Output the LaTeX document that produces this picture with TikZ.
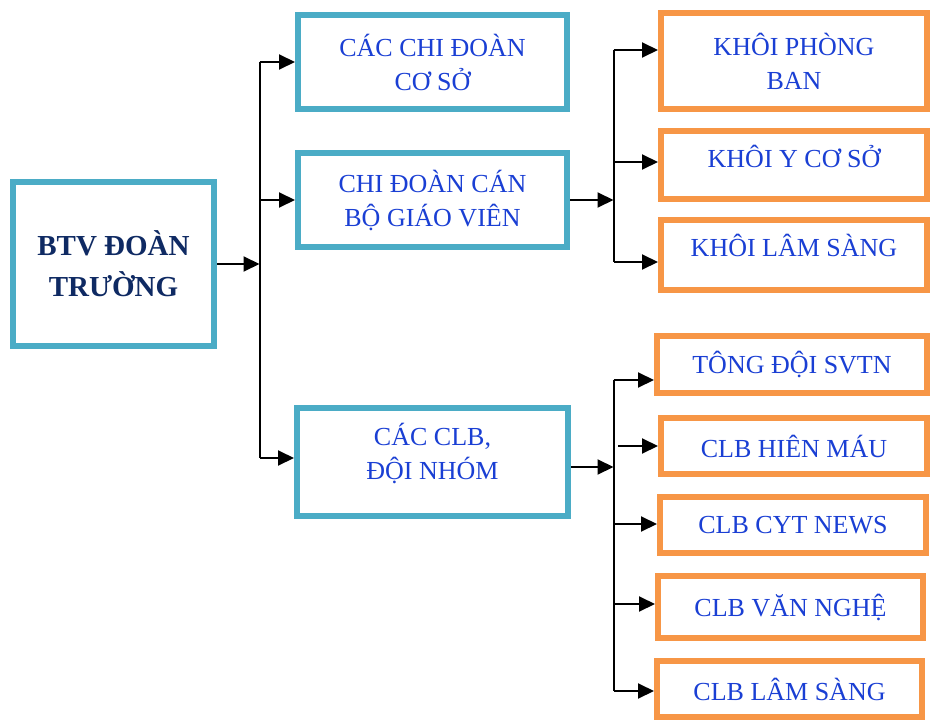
\documentclass[tikz,border=0pt]{standalone}
\usepackage{fontspec}
\setmainfont{Liberation Serif}
\usetikzlibrary{arrows.meta,calc}
\definecolor{teal}{HTML}{4BACC6}
\definecolor{orng}{HTML}{F79646}
\definecolor{txtblue}{HTML}{1A3FD4}
\definecolor{navy}{HTML}{0F2A63}
\tikzset{
  box/.style={draw, line width=6pt, fill=white, inner sep=0pt, align=center,
    font=\fontsize{26}{34}\selectfont, text=txtblue},
  tealbox/.style={box, draw=teal},
  orbox/.style={box, draw=orng},
  arr/.style={line width=2pt, -{Triangle[length=16pt,width=15pt]}},
  bus/.style={line width=2pt},
}
\begin{document}
\begin{tikzpicture}[x=1pt,y=-1pt]
\useasboundingbox (0,0) rectangle (930,720);
% left column
\node[tealbox, minimum width=201pt, minimum height=164pt, text=navy,
  font=\fontsize{29}{41}\selectfont\bfseries] (btv) at (113.5,264) {BTV ĐOÀN\\TRƯỜNG};
% middle column
\node[tealbox, minimum width=269pt, minimum height=94pt] (b1) at (432.5,62) {CÁC CHI ĐOÀN\\CƠ SỞ};
\node[tealbox, minimum width=269pt, minimum height=94pt] (b2) at (432.5,200) {CHI ĐOÀN CÁN\\BỘ GIÁO VIÊN};
\node[tealbox, minimum width=271pt, minimum height=108pt, text depth=21pt] (b3) at (432.5,462) {CÁC CLB,\\ĐỘI NHÓM};
% right column, top group
\node[orbox, minimum width=266pt, minimum height=96pt] (o1) at (794,61) {KHÔI PHÒNG\\BAN};
\node[orbox, minimum width=266pt, minimum height=68pt, text depth=17pt] (o2) at (794,165) {KHÔI Y CƠ SỞ};
\node[orbox, minimum width=266pt, minimum height=70pt, text depth=19pt] (o3) at (794,255) {KHÔI LÂM SÀNG};
% right column, bottom group
\node[orbox, minimum width=270pt, minimum height=57pt] (o4) at (792,364.5) {TÔNG ĐỘI SVTN};
\node[orbox, minimum width=266pt, minimum height=56pt] (o5) at (794,446) {CLB HIÊN MÁU};
\node[orbox, minimum width=266pt, minimum height=56pt] (o6) at (793,525) {CLB CYT NEWS};
\node[orbox, minimum width=265pt, minimum height=62pt] (o7) at (790.5,607) {CLB VĂN NGHỆ};
\node[orbox, minimum width=265pt, minimum height=56pt] (o8) at (789.5,689) {CLB LÂM SÀNG};
% bus coordinates
\coordinate (lbus) at (259.5,262);
\coordinate (rbusA) at (613.5,200);
\coordinate (rbusB) at (613.5,467);
\coordinate (hm) at (618,446);
% left connectors
\draw[arr] (btv.east) -- (btv.east -| lbus);
\draw[bus] (b1.west -| lbus) -- ([yshift=4pt]b3.west -| lbus);
\draw[arr] (b1.west -| lbus) -- (b1.west);
\draw[arr] (b2.west -| lbus) -- (b2.west);
\draw[arr] ([yshift=4pt]b3.west -| lbus) -- ([yshift=4pt]b3.west);
% upper right connectors
\draw[arr] (b2.east) -- (rbusA);
\draw[bus] ([yshift=11pt]o1.west -| rbusA) -- ([yshift=-7pt]o3.west -| rbusA);
\draw[arr] ([yshift=11pt]o1.west -| rbusA) -- ([yshift=11pt]o1.west);
\draw[arr] ([yshift=3pt]o2.west -| rbusA) -- ([yshift=3pt]o2.west);
\draw[arr] ([yshift=-7pt]o3.west -| rbusA) -- ([yshift=-7pt]o3.west);
% lower right connectors
\draw[arr] ([yshift=-5pt]b3.east) -- ([yshift=-5pt]b3.east -| rbusB);
\draw[bus] ([yshift=-15.5pt]o4.west -| rbusB) -- ([yshift=-2pt]o8.west -| rbusB);
\draw[arr] ([yshift=-15.5pt]o4.west -| rbusB) -- ([yshift=-15.5pt]o4.west);
\draw[arr] (hm) -- (o5.west);
\draw[arr] ([yshift=1pt]o6.west -| rbusB) -- ([yshift=1pt]o6.west);
\draw[arr] ([yshift=3pt]o7.west -| rbusB) -- ([yshift=3pt]o7.west);
\draw[arr] ([yshift=-2pt]o8.west -| rbusB) -- ([yshift=-2pt]o8.west);
\end{tikzpicture}
\end{document}
